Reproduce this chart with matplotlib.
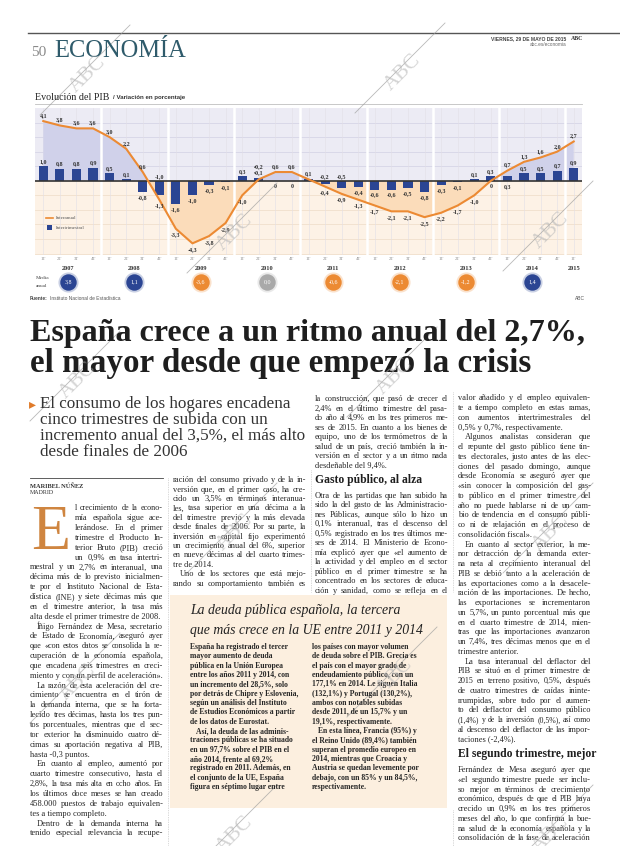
import matplotlib
matplotlib.use('Agg')
import matplotlib.pyplot as plt
import numpy as np
from matplotlib.patches import Rectangle

# datos del grafico: variacion del PIB en %, 1T 2007 - 1T 2015
trimestres = ['1T', '2T', '3T', '4T'] * 8 + ['1T']
anios = ['2007', '2008', '2009', '2010', '2011', '2012', '2013', '2014', '2015']
interanual = [4.1, 3.8, 3.6, 3.6, 3.0, 2.2, 0.6, -1.3, -3.3, -4.3, -3.8, -2.9,
              -1.0, 0.1, 0.6, 0.6, 0.1, -0.4, -0.9, -1.3, -1.7, -2.1, -2.1, -2.5,
              -2.2, -1.7, -1.0, 0.0, 0.7, 1.3, 1.6, 2.0, 2.7]
intertrimestral = [1.0, 0.8, 0.8, 0.9, 0.5, 0.1, -0.8, -1.0, -1.6, -1.0, -0.3, -0.1,
                   0.3, 0.2, 0.0, 0.0, 0.1, -0.2, -0.5, -0.4, -0.6, -0.6, -0.5, -0.8,
                   -0.3, -0.1, 0.1, 0.3, 0.3, 0.5, 0.5, 0.7, 0.9]
media_anual = [3.8, 1.1, -3.6, 0.0, -0.6, -2.1, -1.2, 1.4]

W, H = 620, 846
SERIF = 'Liberation Serif'
SANS = 'Liberation Sans'
BLUE = '#2b4593'
ORANGE = '#ec8a33'
INK = '#262626'

fig = plt.figure(figsize=(W / 100, H / 100), dpi=100)
renderer = fig.canvas.get_renderer()

ax = fig.add_axes([35 / W, 1 - 255 / H, 547 / W, 147 / H], zorder=1)
page = fig.add_axes([0, 0, 1, 1], zorder=2)
page.set_xlim(0, W)
page.set_ylim(H, 0)
page.axis('off')

_cache = {}


def tw(s, size, weight='normal', style='normal', family=SERIF):
    key = (s, size, weight, style, family)
    if key not in _cache:
        t = page.text(0, 0, s, fontsize=size, fontweight=weight, fontstyle=style, family=family)
        _cache[key] = t.get_window_extent(renderer).width
        t.remove()
    return _cache[key]


def fmt(v, zero='0'):
    if v == 0:
        return zero
    return ('%.1f' % v).replace('.', ',')


# ---------------- cabecera ----------------
page.plot([28, 620], [33, 33], color='#555555', lw=1.0)
page.text(31, 56, '50', fontsize=11, family=SERIF, color='#8a8a8a', va='baseline')
s_eco = 20 * 132 / tw('ECONOMÍA', 20)
page.text(54, 57, 'ECONOMÍA', fontsize=s_eco, family=SERIF, color='#2f5b6b', va='baseline')
page.text(566, 39, 'VIERNES, 29 DE MAYO DE 2015', fontsize=3.6, family=SANS, fontweight='bold',
          color='#444444', ha='right', va='center')
page.text(571, 39, 'ABC', fontsize=4.2, family=SERIF, fontweight='bold', color='#333333', va='center')
page.text(566, 44, 'abc.es/economia', fontsize=3.4, family=SANS, color='#666666', ha='right', va='center')

# ---------------- grafico ----------------
x = np.arange(len(interanual))
ia = np.array(interanual)
iq = np.array(intertrimestral)
ytop, ybot = 5.0, -5.1
ax.set_xlim(-0.5, 32.5)
ax.set_ylim(ybot, ytop)
ax.axis('off')
ax.axhspan(0, ytop, color='#ecebf4', zorder=0)
ax.axhspan(ybot, 0, color='#fdf2e6', zorder=0)
for g in range(1, 5):
    ax.axhline(g, color='#d6d5e6', lw=0.6, zorder=1)
for g in range(-5, 0):
    ax.axhline(g, color='#f1e0cc', lw=0.6, zorder=1)
for xi in x:
    ax.axvline(xi, color='#e2dfe6', lw=0.4, zorder=1)
ax.fill_between(x, ia, 0, where=ia >= 0, interpolate=True, color='#d0d1ea', lw=0, zorder=2)
ax.fill_between(x, ia, 0, where=ia <= 0, interpolate=True, color='#fbdcba', lw=0, zorder=2)
for b in np.arange(3.5, 32, 4):
    ax.axvline(b, color='white', lw=1.8, zorder=3)
ax.bar(x, iq, width=0.55, color=BLUE, zorder=4)
ax.axhline(0, color='#333333', lw=1.2, zorder=5)
ax.plot(x, ia, color=ORANGE, lw=1.5, zorder=6)

lab = dict(fontsize=4.3, family=SERIF, fontweight='bold', color='#333333', ha='center',
           va='center', zorder=7)
for i in x:
    a, q = ia[i], iq[i]
    if a > 0 and q > 0 and abs(a - q) < 0.3 and a != q:
        ax.text(i, max(a, q) + 0.75, '▪' + fmt(q), **lab)
        ax.text(i, max(a, q) + 0.38, '•' + fmt(a), **lab)
        continue
    ax.text(i, a + 0.38 if a > 0 else a - 0.42, fmt(a), **lab)
    if a == q:
        continue
    if q > 0 and a > q and a - q < 0.8:
        yq = -0.38
    elif q < 0 and a < 0 and abs(a - q) < 0.8:
        yq = 0.32
    elif q > 0:
        yq = q + 0.35
    else:
        yq = q - 0.38
    ax.text(i, yq, fmt(q), **lab)

ppu = 147 / (ytop - ybot)


def ydat(ypix):
    return ytop - (ypix - 108) / ppu


for i, t in enumerate(trimestres):
    ax.text(i, ydat(259), t, fontsize=3.4, family=SERIF, color='#8c8c8c', ha='center',
            va='center', clip_on=False)
for k, yr in enumerate(anios):
    xc = min(4 * k + 1.5, len(interanual) - 1)
    ax.text(xc, ydat(268), yr, fontsize=4.6, family=SERIF, fontweight='bold', color='#333333',
            ha='center', va='center', clip_on=False)
for k, m in enumerate(media_anual):
    c = BLUE if m > 0 else (ORANGE if m < 0 else '#a9a9a9')
    xc = 4 * k + 1.5
    ax.scatter([xc], [ydat(282)], s=210, color=c, alpha=0.25, lw=0, clip_on=False, zorder=8)
    ax.scatter([xc], [ydat(282)], s=140, color=c, lw=0, clip_on=False, zorder=9)
    ax.text(xc, ydat(282), fmt(m, '0,0'), fontsize=4.3, family=SERIF, color='white',
            ha='center', va='center', clip_on=False, zorder=10)

page.text(36, 278, 'Media', fontsize=3.8, family=SERIF, color='#444444', va='center')
page.text(36, 286, 'anual', fontsize=3.8, family=SERIF, color='#444444', va='center')

# leyenda del grafico
page.plot([46, 53], [218, 218], color=ORANGE, lw=1.2)
page.text(56, 218, 'Interanual', fontsize=3.6, family=SERIF, color='#555555', va='center')
page.add_patch(Rectangle((46.5, 225.5), 5, 5, color=BLUE, lw=0))
page.text(56, 228, 'Intertrimestral', fontsize=3.6, family=SERIF, color='#555555', va='center')

page.text(35, 97, 'Evolución del PIB', fontsize=7.2, family=SERIF, color='#222222', va='center')
xt = 35 + tw('Evolución del PIB', 7.2) + 4
page.text(xt, 97, '/ Variación en porcentaje', fontsize=4.4, family=SANS, fontweight='bold',
          color='#333333', va='center')
page.plot([35, 582], [104, 104], color='#bfbfbf', lw=0.6)
page.text(30, 298, 'Fuente:', fontsize=3.5, family=SANS, fontweight='bold', color='#444444', va='center')
page.text(30 + tw('Fuente:', 3.5, 'bold', family=SANS) + 2, 298, 'Instituto Nacional de Estadística',
          fontsize=3.5, family=SANS, color='#555555', va='center')
page.text(585, 298, 'ABC', fontsize=3.5, family=SANS, color='#555555', ha='right', va='center')

# ---------------- titular ----------------
h1 = 'España crece a un ritmo anual del 2,7%,'
h2 = 'el mayor desde que empezó la crisis'
s_h1 = 20 * 555 / tw(h1, 20, 'bold')
s_h2 = 0.5 * (s_h1 + 20 * 518 / tw(h2, 20, 'bold'))
page.text(30, 341, h1, fontsize=s_h1, family=SERIF, fontweight='bold', color='#1e1e1e', va='baseline')
page.text(30, 372, h2, fontsize=s_h2, family=SERIF, fontweight='bold', color='#1e1e1e', va='baseline')

sub = ['El consumo de los hogares encadena',
       'cinco trimestres de subida con un',
       'incremento anual del 3,5%, el más alto',
       'desde finales de 2006']
s_sub = 10 * 265 / tw(sub[2], 10)
page.text(29, 404, '▸', fontsize=10, family='DejaVu Sans', color='#e07b2a', va='center')
for k, s in enumerate(sub):
    page.text(40, 408 + 16 * k, s, fontsize=s_sub, family=SERIF, color='#333333', va='baseline')

page.plot([30, 163], [478, 478], color='#444444', lw=0.6)
page.text(30, 486, 'MARIBEL NÚÑEZ', fontsize=4.6, family=SERIF, fontweight='bold', color='#333333', va='center')
page.text(30, 493, 'MADRID', fontsize=4.3, family=SERIF, color='#333333', va='center')

# ---------------- cuerpo ----------------
BODY = 6.0


def justify(s, x0, x1, yb, size, last, weight='normal'):
    words = s.split(' ')
    width = x1 - x0
    # si la linea no cabe, se reduce un poco el cuerpo de letra
    nat = tw(s, size, weight)
    if nat > width:
        size = size * width / (nat + 2)
    kw = dict(fontsize=size, family=SERIF, fontweight=weight, color=INK, va='baseline')
    if last or len(words) == 1:
        page.text(x0, yb, s, **kw)
        return
    ws = [tw(w, size, weight) for w in words]
    gap = max((width - sum(ws)) / (len(words) - 1), 1.2)
    xx = x0
    for w, wd in zip(words, ws):
        page.text(xx, yb, w, **kw)
        xx += wd + gap


def column(lines, x0, x1, y0, lead=9.7, size=BODY):
    y = y0
    for ln in lines:
        if ln.startswith('#'):
            y += 5
            page.text(x0, y + 3, ln[2:], fontsize=8.4, family=SERIF, fontweight='bold',
                      color='#1e1e1e', va='baseline')
            y += lead + 6
            continue
        start = x0
        last = ln.endswith('|')
        s = ln.rstrip('|')
        if s.startswith('^'):
            start += 45
            s = s[1:]
        if s.startswith('>'):
            start += 7
            s = s[1:]
        justify(s, start, x1, y + 2.3, size, last)
        y += lead


col1 = ['^l crecimiento de la econo-',
        '^mía española sigue ace-',
        '^lerándose. En el primer',
        '^trimestre el Producto In-',
        '^terior Bruto (PIB) creció',
        '^un 0,9% en tasa intertri-',
        'mestral y un 2,7% en interanual, una',
        'décima más de lo previsto inicialmen-',
        'te por el Instituto Nacional de Esta-',
        'dística (INE) y siete décimas más que',
        'en el trimestre anterior, la tasa más',
        'alta desde el primer trimestre de 2008.|',
        '>Íñigo Fernández de Mesa, secretario',
        'de Estado de Economía, aseguró ayer',
        'que «con estos datos se consolida la re-',
        'cuperación de la economía española,',
        'que encadena seis trimestres en creci-',
        'miento y con un perfil de aceleración».|',
        '>La razón de esta aceleración del cre-',
        'cimiento se encuentra en el tirón de',
        'la demanda interna, que se ha forta-',
        'lecido tres décimas, hasta los tres pun-',
        'tos porcentuales, mientras que el sec-',
        'tor exterior ha disminuido cuatro dé-',
        'cimas su aportación negativa al PIB,',
        'hasta -0,3 puntos.|',
        '>En cuanto al empleo, aumentó por',
        'cuarto trimestre consecutivo, hasta el',
        '2,8%, la tasa más alta en ocho años. En',
        'los últimos doce meses se han creado',
        '458.000 puestos de trabajo equivalen-',
        'tes a tiempo completo.|',
        '>Dentro de la demanda interna ha',
        'tenido especial relevancia la recupe-']

col2 = ['ración del consumo privado y de la in-',
        'versión que, en el primer caso, ha cre-',
        'cido un 3,5% en términos interanua-',
        'les, tasa superior en una décima a la',
        'del trimestre previo y la más elevada',
        'desde finales de 2006. Por su parte, la',
        'inversión en capital fijo experimentó',
        'un crecimiento anual del 6%, superior',
        'en nueve décimas al del cuarto trimes-',
        'tre de 2014.|',
        '>Uno de los sectores que está mejo-',
        'rando su comportamiento también es']

col3 = ['la construcción, que pasó de crecer el',
        '2,4% en el último trimestre del pasa-',
        'do año al 4,9% en los tres primeros me-',
        'ses de 2015. En cuanto a los bienes de',
        'equipo, uno de los termómetros de la',
        'salud de un país, creció también la in-',
        'versión en el sector y a un ritmo nada',
        'desdeñable del 9,4%.|',
        '# Gasto público, al alza',
        'Otra de las partidas que han subido ha',
        'sido la del gasto de las Administracio-',
        'nes Públicas, aunque sólo lo hizo un',
        '0,1% interanual, tras el descenso del',
        '0,5% registrado en los tres últimos me-',
        'ses de 2014. El Ministerio de Econo-',
        'mía explicó ayer que «el aumento de',
        'la actividad y del empleo en el sector',
        'público en el primer trimestre se ha',
        'concentrado en los sectores de educa-',
        'ción y sanidad, como se refleja en el']

col4 = ['valor añadido y el empleo equivalen-',
        'te a tiempo completo en estas ramas,',
        'con aumentos intertrimestrales del',
        '0,5% y 0,7%, respectivamente.|',
        '>Algunos analistas consideran que',
        'el repunte del gasto público tiene tin-',
        'tes electorales, justo antes de las elec-',
        'ciones del pasado domingo, aunque',
        'desde Economía se aseguró ayer que',
        '«sin conocer la composición del gas-',
        'to público en el primer trimestre del',
        'año no puede hablarse ni de un cam-',
        'bio de tendencia en el consumo públi-',
        'co ni de relajación en el proceso de',
        'consolidación fiscal».|',
        '>En cuanto al sector exterior, la me-',
        'nor detracción de la demanda exter-',
        'na neta al crecimiento interanual del',
        'PIB se debió tanto a la aceleración de',
        'las exportaciones como a la desacele-',
        'ración de las importaciones. De hecho,',
        'las exportaciones se incrementaron',
        'un 5,7%, un punto porcentual más que',
        'en el cuarto trimestre de 2014, mien-',
        'tras que las importaciones avanzaron',
        'un 7,4%, tres décimas menos que en el',
        'trimestre anterior.|',
        '>La tasa interanual del deflactor del',
        'PIB se situó en el primer trimestre de',
        '2015 en terreno positivo, 0,5%, después',
        'de cuatro trimestres de caídas ininte-',
        'rrumpidas, sobre todo por el aumen-',
        'to del deflactor del consumo público',
        '(1,4%) y de la inversión (0,5%), así como',
        'al descenso del deflactor de las impor-',
        'taciones (-2,4%).|',
        '# El segundo trimestre, mejor',
        'Fernández de Mesa aseguró ayer que',
        '«el segundo trimestre puede ser inclu-',
        'so mejor en términos de crecimiento',
        'económico, después de que el PIB haya',
        'crecido un 0,9% en los tres primeros',
        'meses del año, lo que confirma la bue-',
        'na salud de la economía española y la',
        'consolidación de la fase de aceleración']

# letra capital
page.text(31, 549, 'E', fontsize=46, family=SERIF, color='#cf8540', va='baseline')

column(col1, 30, 163, 508, lead=9.85)
column(col2, 173, 306, 480, lead=9.4)
column(col3, 315, 448, 399, lead=9.5)
column(col4, 458, 591, 398, lead=9.75)

for xs, y0, y1 in [(168, 478, 846), (310.5, 470, 592), (453, 392, 592), (453, 810, 846)]:
    page.plot([xs, xs], [y0, y1], color='#b5b5b5', lw=0.5, ls=(0, (1, 1.5)))

# ---------------- recuadro deuda ----------------
page.add_patch(Rectangle((170, 595), 277, 213, color='#fcefdf', lw=0))
bt1 = 'La deuda pública española, la tercera'
bt2 = 'que más crece en la UE entre 2011 y 2014'
s_bt = 12 * 232 / tw(bt2, 12, style='italic')
page.text(190, 614, bt1, fontsize=s_bt, family=SERIF, fontstyle='italic', color='#222222', va='baseline')
page.text(190, 634, bt2, fontsize=s_bt, family=SERIF, fontstyle='italic', color='#222222', va='baseline')

boxA = ['España ha registrado el tercer', 'mayor aumento de deuda', 'pública en la Unión Europea',
        'entre los años 2011 y 2014, con', 'un incremento del 28,5%, solo',
        'por detrás de Chipre y Eslovenia,', 'según un análisis del Instituto',
        'de Estudios Económicos a partir', 'de los datos de Eurostat.',
        '>Así, la deuda de las adminis-', 'traciones públicas se ha situado',
        'en un 97,7% sobre el PIB en el', 'año 2014, frente al 69,2%',
        'registrado en 2011. Además, en', 'el conjunto de la UE, España',
        'figura en séptimo lugar entre']
boxB = ['los países con mayor volumen', 'de deuda sobre el PIB. Grecia es',
        'el país con el mayor grado de', 'endeudamiento público, con un',
        '177,1% en 2014. Le siguen Italia', '(132,1%) y Portugal (130,2%),',
        'ambos con notables subidas', 'desde 2011, de un 15,7% y un', '19,1%, respectivamente.',
        '>En esta línea, Francia (95%) y', 'el Reino Unido (89,4%) también',
        'superan el promedio europeo en', '2014, mientras que Croacia y',
        'Austria se quedan levemente por', 'debajo, con un 85% y un 84,5%,', 'respectivamente.']
for lines, x0 in [(boxA, 190), (boxB, 312)]:
    for k, ln in enumerate(lines):
        xx = x0 + (6 if ln.startswith('>') else 0)
        page.text(xx, 649 + 9.33 * k, ln.lstrip('>'), fontsize=5.5, family=SERIF, fontweight='bold',
                  color=INK, va='baseline')

# ---------------- marcas de agua ----------------
for cx, cy in [(85, 70), (400, 68), (232, 228), (548, 226), (75, 376), (392, 372),
               (232, 528), (548, 528), (75, 678), (392, 672), (232, 830), (548, 830)]:
    page.plot([cx - 45, cx + 45], [cy + 45, cy - 45], color='#9c9c9c', lw=0.6, alpha=0.7)
    page.text(cx + 3, cy + 5, 'ABC', fontsize=15, family=SERIF, color='#b9b9b9', alpha=0.6,
              rotation=45, ha='center', va='center', rotation_mode='anchor')

fig.savefig('out.png', dpi=100)
